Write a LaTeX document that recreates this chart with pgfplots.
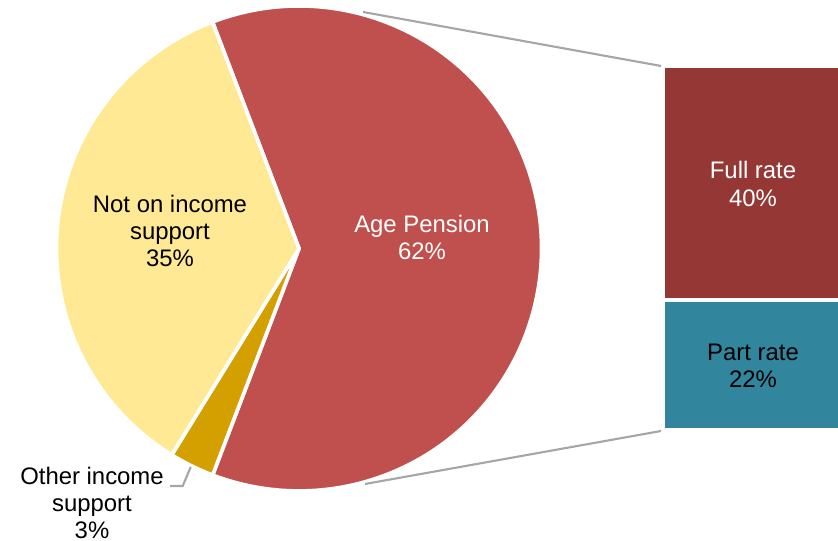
\documentclass[border=0pt]{standalone}
\usepackage{fontspec}
\setmainfont{Liberation Sans}
\usepackage{pgfplots}
\pgfplotsset{compat=1.18}
\usepackage{pgfplotstable}

\definecolor{agered}{HTML}{C0504D}
\definecolor{notyellow}{HTML}{FFE994}
\definecolor{othergold}{HTML}{D4A000}
\definecolor{fullred}{HTML}{953735}
\definecolor{partteal}{HTML}{31859C}
\definecolor{linegray}{HTML}{A6A6A6}

% pie shares (per cent)
\pgfplotstableread{
category value
AgePension 61.6
Other 3.0
NotOnIncome 35.4
}\pietable
% bar breakdown of Age Pension (per cent)
\pgfplotstableread{
x full part
0.5 39.6 22.0
}\bartable

\begin{document}%
\begin{tikzpicture}[lbl/.style={font=\fontsize{6.8}{7.75}\selectfont, align=center, inner sep=0pt}]%
\pgfplotstablegetelem{0}{value}\of\pietable \let\vA\pgfplotsretval
\pgfplotstablegetelem{1}{value}\of\pietable \let\vB\pgfplotsretval
\pgfplotstablegetelem{2}{value}\of\pietable \let\vC\pgfplotsretval
\pgfmathsetmacro\aStart{110.9}
\pgfmathsetmacro\aOne{\aStart-3.6*\vA}
\pgfmathsetmacro\aTwo{\aOne-3.6*\vB}
\pgfmathsetmacro\aThree{\aTwo-3.6*\vC}
\begin{axis}[at={(6.627cm,1.11cm)}, anchor=south west, scale only axis,
  width=1.753cm, height=3.64cm, hide axis,
  xmin=-0.5, xmax=0.5, ymin=0, ymax=61.6,
  ybar stacked, bar width=3.506cm]
  \addplot[fill=partteal, draw=white, line width=1.3pt] table[x=x, y=part] {\bartable};
  \addplot[fill=fullred, draw=white, line width=1.3pt] table[x=x, y=full] {\bartable};
\end{axis}
\begin{axis}[scale only axis, width=8.38cm, height=5.41cm,
  xmin=0, xmax=838, ymin=0, ymax=541, hide axis, clip=false]
  % pie slices
  \fill[agered, draw=white, line width=1.05pt] (axis cs:299,292.5) -- ([shift={(\aStart:2.425cm)}]axis cs:299,292.5) arc[start angle=\aStart, end angle=\aOne, radius=2.425cm] -- cycle;
  \fill[othergold, draw=white, line width=1.05pt] (axis cs:299,292.5) -- ([shift={(\aOne:2.425cm)}]axis cs:299,292.5) arc[start angle=\aOne, end angle=\aTwo, radius=2.425cm] -- cycle;
  \fill[notyellow, draw=white, line width=1.05pt] (axis cs:299,292.5) -- ([shift={(\aTwo:2.425cm)}]axis cs:299,292.5) arc[start angle=\aTwo, end angle=\aThree, radius=2.425cm] -- cycle;
  % connector lines
  \draw[linegray, line width=0.6pt] (axis cs:363,529) -- (axis cs:661,475);
  \draw[linegray, line width=0.6pt] (axis cs:365,57) -- (axis cs:661,110);
  \draw[linegray, line width=0.6pt] (axis cs:190.7,74) -- (axis cs:182.7,55) -- (axis cs:170,55);
  % labels
  \node[lbl, text=white] at (axis cs:422,303.5) {Age Pension\\62\%};
  \node[lbl] at (axis cs:170,310) {Not on income\\support\\35\%};
  \node[lbl] at (axis cs:92,38) {Other income\\support\\3\%};
  \node[lbl, text=white] at (axis cs:753,357) {Full rate\\40\%};
  \node[lbl] at (axis cs:753,175) {Part rate\\22\%};
\end{axis}
\pgfresetboundingbox
\path[use as bounding box] (0,0) rectangle (8.38cm,5.41cm);
\end{tikzpicture}%
\end{document}
